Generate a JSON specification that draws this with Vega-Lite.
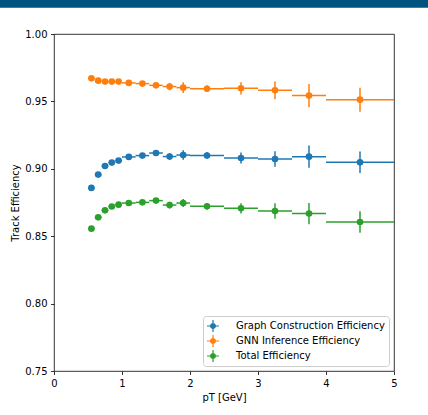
{
  "$schema": "https://vega.github.io/schema/vega-lite/v6.json",
  "width": 340,
  "height": 337,
  "autosize": "none",
  "padding": {"left": 54, "top": 34, "right": 34, "bottom": 44},
  "background": "white",
  "config": {
    "font": "DejaVu Sans",
    "view": {"stroke": "#000000", "strokeWidth": 0.8},
    "axis": {
      "domain": false,
      "grid": false,
      "tickColor": "#000000",
      "tickWidth": 0.8,
      "tickSize": 3.5,
      "labelFontSize": 10,
      "labelColor": "#000000",
      "labelPadding": 3.5,
      "labelFlush": false,
      "titleFontSize": 10,
      "titleFontWeight": "normal",
      "titleColor": "#000000",
      "titlePadding": 4
    },
    "legend": {
      "orient": "bottom-right",
      "offset": 5,
      "fillColor": "rgba(255,255,255,0.8)",
      "strokeColor": "#cccccc",
      "cornerRadius": 3,
      "padding": 4,
      "rowPadding": 3,
      "labelFontSize": 10,
      "labelColor": "#000000",
      "labelOffset": 17,
      "symbolType": "M-0.5,0A0.5,0.5 0 1,1 0.5,0A0.5,0.5 0 1,1 -0.5,0Z M-1,-0.1H1V0.1H-1Z M-0.1,-1H0.1V1H-0.1Z",
      "symbolSize": 144,
      "symbolStrokeWidth": 0,
      "symbolOpacity": 1
    }
  },
  "data": {
    "values": [
      {"series": "Graph Construction Efficiency", "pt": 0.55, "lo": 0.5, "hi": 0.6, "eff": 0.8858, "err": 0.0015},
      {"series": "Graph Construction Efficiency", "pt": 0.65, "lo": 0.6, "hi": 0.7, "eff": 0.8957, "err": 0.0015},
      {"series": "Graph Construction Efficiency", "pt": 0.75, "lo": 0.7, "hi": 0.8, "eff": 0.9021, "err": 0.0015},
      {"series": "Graph Construction Efficiency", "pt": 0.85, "lo": 0.8, "hi": 0.9, "eff": 0.9046, "err": 0.0015},
      {"series": "Graph Construction Efficiency", "pt": 0.95, "lo": 0.9, "hi": 1.0, "eff": 0.9061, "err": 0.0015},
      {"series": "Graph Construction Efficiency", "pt": 1.1, "lo": 1.0, "hi": 1.2, "eff": 0.9088, "err": 0.0015},
      {"series": "Graph Construction Efficiency", "pt": 1.3, "lo": 1.2, "hi": 1.4, "eff": 0.9098, "err": 0.0018},
      {"series": "Graph Construction Efficiency", "pt": 1.5, "lo": 1.4, "hi": 1.6, "eff": 0.9117, "err": 0.002},
      {"series": "Graph Construction Efficiency", "pt": 1.7, "lo": 1.6, "hi": 1.8, "eff": 0.9091, "err": 0.0025},
      {"series": "Graph Construction Efficiency", "pt": 1.9, "lo": 1.8, "hi": 2.0, "eff": 0.9102, "err": 0.0035},
      {"series": "Graph Construction Efficiency", "pt": 2.25, "lo": 2.0, "hi": 2.5, "eff": 0.9099, "err": 0.0025},
      {"series": "Graph Construction Efficiency", "pt": 2.75, "lo": 2.5, "hi": 3.0, "eff": 0.908, "err": 0.004},
      {"series": "Graph Construction Efficiency", "pt": 3.25, "lo": 3.0, "hi": 3.5, "eff": 0.9073, "err": 0.0058},
      {"series": "Graph Construction Efficiency", "pt": 3.75, "lo": 3.5, "hi": 4.0, "eff": 0.909, "err": 0.0082},
      {"series": "Graph Construction Efficiency", "pt": 4.5, "lo": 4.0, "hi": 5.0, "eff": 0.9048, "err": 0.008},
      {"series": "GNN Inference Efficiency", "pt": 0.55, "lo": 0.5, "hi": 0.6, "eff": 0.9671, "err": 0.001},
      {"series": "GNN Inference Efficiency", "pt": 0.65, "lo": 0.6, "hi": 0.7, "eff": 0.9654, "err": 0.001},
      {"series": "GNN Inference Efficiency", "pt": 0.75, "lo": 0.7, "hi": 0.8, "eff": 0.9647, "err": 0.001},
      {"series": "GNN Inference Efficiency", "pt": 0.85, "lo": 0.8, "hi": 0.9, "eff": 0.9647, "err": 0.001},
      {"series": "GNN Inference Efficiency", "pt": 0.95, "lo": 0.9, "hi": 1.0, "eff": 0.9647, "err": 0.001},
      {"series": "GNN Inference Efficiency", "pt": 1.1, "lo": 1.0, "hi": 1.2, "eff": 0.9637, "err": 0.001},
      {"series": "GNN Inference Efficiency", "pt": 1.3, "lo": 1.2, "hi": 1.4, "eff": 0.9632, "err": 0.0012},
      {"series": "GNN Inference Efficiency", "pt": 1.5, "lo": 1.4, "hi": 1.6, "eff": 0.9619, "err": 0.0015},
      {"series": "GNN Inference Efficiency", "pt": 1.7, "lo": 1.6, "hi": 1.8, "eff": 0.961, "err": 0.0027},
      {"series": "GNN Inference Efficiency", "pt": 1.9, "lo": 1.8, "hi": 2.0, "eff": 0.9602, "err": 0.004},
      {"series": "GNN Inference Efficiency", "pt": 2.25, "lo": 2.0, "hi": 2.5, "eff": 0.9594, "err": 0.0025},
      {"series": "GNN Inference Efficiency", "pt": 2.75, "lo": 2.5, "hi": 3.0, "eff": 0.9597, "err": 0.0045},
      {"series": "GNN Inference Efficiency", "pt": 3.25, "lo": 3.0, "hi": 3.5, "eff": 0.9582, "err": 0.0066},
      {"series": "GNN Inference Efficiency", "pt": 3.75, "lo": 3.5, "hi": 4.0, "eff": 0.9543, "err": 0.0087},
      {"series": "GNN Inference Efficiency", "pt": 4.5, "lo": 4.0, "hi": 5.0, "eff": 0.9513, "err": 0.0089},
      {"series": "Total Efficiency", "pt": 0.55, "lo": 0.5, "hi": 0.6, "eff": 0.8556, "err": 0.0015},
      {"series": "Total Efficiency", "pt": 0.65, "lo": 0.6, "hi": 0.7, "eff": 0.864, "err": 0.0015},
      {"series": "Total Efficiency", "pt": 0.75, "lo": 0.7, "hi": 0.8, "eff": 0.8692, "err": 0.0015},
      {"series": "Total Efficiency", "pt": 0.85, "lo": 0.8, "hi": 0.9, "eff": 0.872, "err": 0.0015},
      {"series": "Total Efficiency", "pt": 0.95, "lo": 0.9, "hi": 1.0, "eff": 0.8734, "err": 0.0015},
      {"series": "Total Efficiency", "pt": 1.1, "lo": 1.0, "hi": 1.2, "eff": 0.8746, "err": 0.0015},
      {"series": "Total Efficiency", "pt": 1.3, "lo": 1.2, "hi": 1.4, "eff": 0.8751, "err": 0.0018},
      {"series": "Total Efficiency", "pt": 1.5, "lo": 1.4, "hi": 1.6, "eff": 0.8764, "err": 0.002},
      {"series": "Total Efficiency", "pt": 1.7, "lo": 1.6, "hi": 1.8, "eff": 0.8731, "err": 0.0025},
      {"series": "Total Efficiency", "pt": 1.9, "lo": 1.8, "hi": 2.0, "eff": 0.8746, "err": 0.003},
      {"series": "Total Efficiency", "pt": 2.25, "lo": 2.0, "hi": 2.5, "eff": 0.8722, "err": 0.0025},
      {"series": "Total Efficiency", "pt": 2.75, "lo": 2.5, "hi": 3.0, "eff": 0.8707, "err": 0.0038},
      {"series": "Total Efficiency", "pt": 3.25, "lo": 3.0, "hi": 3.5, "eff": 0.8687, "err": 0.0058},
      {"series": "Total Efficiency", "pt": 3.75, "lo": 3.5, "hi": 4.0, "eff": 0.8668, "err": 0.0079},
      {"series": "Total Efficiency", "pt": 4.5, "lo": 4.0, "hi": 5.0, "eff": 0.8605, "err": 0.008}
    ]
  },
  "layer": [
    {
      "data": {"values": [{}]},
      "mark": {"type": "rect", "color": "#00527f", "clip": false},
      "encoding": {
        "x": {"datum": -1, "type": "quantitative", "scale": {"domain": [0, 5], "nice": false, "zero": false}, "title": "pT [GeV]", "axis": {"values": [0, 1, 2, 3, 4, 5], "format": "d"}},
        "x2": {"datum": 6},
        "y": {"datum": 1.0195, "type": "quantitative", "scale": {"domain": [0.75, 1.0], "nice": false, "zero": false}, "title": "Track Efficiency", "axis": {"values": [0.75, 0.8, 0.85, 0.9, 0.95, 1.0], "format": ".2f"}},
        "y2": {"datum": 1.03}
      }
    },
    {
      "mark": {"type": "rule", "strokeWidth": 1.5},
      "encoding": {
        "x": {"field": "lo", "type": "quantitative", "title": "pT [GeV]"},
        "x2": {"field": "hi"},
        "y": {"field": "eff", "type": "quantitative", "title": "Track Efficiency"},
        "color": {"field": "series", "type": "nominal", "title": null,
          "scale": {"domain": ["Graph Construction Efficiency", "GNN Inference Efficiency", "Total Efficiency"], "range": ["#1f77b4", "#ff7f0e", "#2ca02c"]},
          "legend": {"encode": {"symbols": {"update": {"fill": {"scale": "color", "field": "value"}, "stroke": {"value": "transparent"}, "strokeWidth": {"value": 0}, "opacity": {"value": 1}}}}}}
      }
    },
    {
      "mark": {"type": "errorbar", "thickness": 1.5, "ticks": false},
      "encoding": {
        "x": {"field": "pt", "type": "quantitative", "title": "pT [GeV]"},
        "y": {"field": "eff", "type": "quantitative", "title": "Track Efficiency"},
        "yError": {"field": "err"},
        "color": {"field": "series", "type": "nominal", "title": null,
          "legend": {"encode": {"symbols": {"update": {"fill": {"scale": "color", "field": "value"}, "stroke": {"value": "transparent"}, "strokeWidth": {"value": 0}, "opacity": {"value": 1}}}}}}
      }
    },
    {
      "mark": {"type": "point", "filled": true, "size": 44, "opacity": 1, "shape": "circle"},
      "encoding": {
        "x": {"field": "pt", "type": "quantitative", "title": "pT [GeV]"},
        "y": {"field": "eff", "type": "quantitative", "title": "Track Efficiency"},
        "color": {"field": "series", "type": "nominal", "title": null,
          "legend": {"encode": {"symbols": {"update": {"fill": {"scale": "color", "field": "value"}, "stroke": {"value": "transparent"}, "strokeWidth": {"value": 0}, "opacity": {"value": 1}}}}}}
      }
    }
  ]
}
